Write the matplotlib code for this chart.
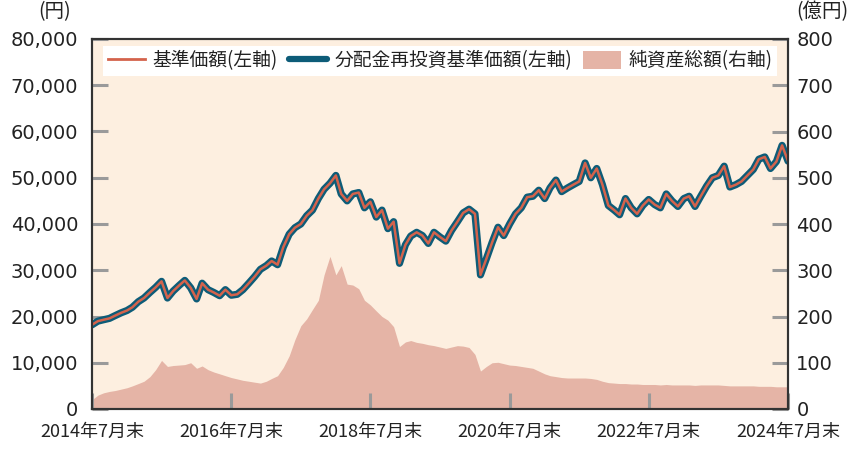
import numpy as np
import pandas as pd
import matplotlib
matplotlib.use("Agg")
import matplotlib.pyplot as plt
from matplotlib.lines import Line2D
from matplotlib.patches import Patch

plt.rcParams['font.family'] = ['Noto Sans CJK JP', 'DejaVu Sans']

# monthly, 2014-07 .. 2024-07 (month end)
dates = pd.date_range("2014-07-31", periods=121, freq="ME")

# 基準価額 (円), one value per month
nav = [
    18200, 19000, 19300, 19600, 20200, 20800, 21300, 22000, 23200, 24000,
    25200, 26300, 27600, 24000, 25500, 26700, 27800, 26200, 23800, 27200,
    25800, 25200, 24500, 25800, 24600, 24800, 25800, 27200, 28600, 30200,
    31000, 32000, 31200, 35000, 37800, 39200, 40000, 41800, 43000, 45500,
    47500, 48800, 50500, 46500, 45000, 46500, 46800, 43500, 44800, 41500,
    43000, 39000, 40500, 31500, 35500, 37400, 38200, 37500, 35800, 38200,
    37200, 36300, 38600, 40500, 42400, 43200, 42200, 29000, 32500, 36000,
    39300, 37500, 40000, 42200, 43500, 45800, 46000, 47300, 45500, 47800,
    49500, 47000, 47800, 48500, 49200, 53200, 50000, 52000, 48500, 44000,
    43000, 42000, 45500, 43500, 42200, 44000, 45300, 44200, 43500, 46500,
    45000, 43800, 45500, 46000, 43800, 46000, 48200, 50000, 50500, 52500,
    48000, 48500, 49200, 50500, 51800, 54000, 54500, 52000, 53500, 57000,
    53600,
]
# 分配金再投資基準価額 (円) - no distributions, same path as nav
nav_reinvest = list(nav)

# 純資産総額 (億円)
assets = [
    20, 30, 35, 38, 40, 43, 46, 50, 55, 60,
    70, 85, 105, 92, 94, 95, 96, 100, 88, 93,
    85, 80, 76, 72, 68, 65, 62, 60, 58, 56,
    60, 66, 72, 90, 115, 150, 180, 195, 215, 235,
    290, 330, 290, 310, 270, 268, 260, 235, 225, 212,
    200, 192, 178, 135, 145, 148, 144, 142, 139, 137,
    134, 131, 134, 137, 136, 133, 118, 82, 92, 100,
    101, 98, 95, 94, 92, 90, 88, 82, 76, 72,
    70, 68, 67, 67, 67, 67, 66, 64, 60, 57,
    56, 55, 55, 54, 54, 53, 53, 53, 52, 53,
    52, 52, 52, 52, 51, 52, 52, 52, 52, 51,
    50, 50, 50, 50, 50, 49, 49, 49, 48, 48,
    48,
]

tick_dates = pd.to_datetime(["2014-07-31", "2016-07-31", "2018-07-31",
                             "2020-07-31", "2022-07-31", "2024-07-31"])
tick_labels = ["2014年7月末", "2016年7月末", "2018年7月末",
               "2020年7月末", "2022年7月末", "2024年7月末"]
left_ticks = np.arange(0, 80001, 10000)
right_ticks = np.arange(0, 801, 100)

RED = "#d4634c"
TEAL = "#0d5c78"
AREA = "#e5b4a6"
BG = "#fdefe0"
TICK = "#9a9a9a"

fig = plt.figure(figsize=(8.52, 4.5), dpi=100)
ax = fig.add_axes([92 / 852, 41 / 450, 696 / 852, 370 / 450])
ax.set_facecolor(BG)

# area on the base axes, right-hand scale
ax.fill_between(dates, assets, 0, color=AREA, lw=0)
ax.set_ylim(0, 800)

# price lines on the twin, left-hand scale
ax2 = ax.twinx()
ax2.plot(dates, nav_reinvest, color=TEAL, lw=5.2, solid_joinstyle="round",
         solid_capstyle="round")
ax2.plot(dates, nav, color=RED, lw=1.8)
ax2.set_ylim(0, 80000)

# swap sides: twin carries the left axis, base carries the right
ax.yaxis.tick_right()
ax2.yaxis.tick_left()
ax.set_yticks(right_ticks)
ax.set_yticklabels([f"{v:d}" for v in right_ticks], family="DejaVu Sans")
ax2.set_yticks(left_ticks)
ax2.set_yticklabels([f"{v:,d}" for v in left_ticks], family="DejaVu Sans")

for a in (ax, ax2):
    a.set_xlim(dates[0], dates[-1])
    for s in a.spines.values():
        s.set_color("#333333")
        s.set_linewidth(1.5)

ax.set_xticks(tick_dates)
ax.set_xticklabels(tick_labels)
ax.tick_params(axis="x", direction="in", length=11.5, width=2.2, color=TICK,
               labelsize=13, pad=10, labelcolor="#222222")
ax.tick_params(axis="y", direction="in", length=11.5, width=2.2, color=TICK,
               labelsize=14, pad=6, labelcolor="#222222")
ax2.tick_params(axis="y", direction="in", length=11.5, width=2.2, color=TICK,
                labelsize=14, pad=10, labelcolor="#222222")

fig.text(55 / 852, 1 - 12 / 450, "(円)", ha="center", va="center",
         fontsize=14, color="#222222")
fig.text(822 / 852, 1 - 12 / 450, "(億円)", ha="center", va="center",
         fontsize=14, color="#222222")

handles = [
    Line2D([], [], color=RED, lw=2),
    Line2D([], [], color=TEAL, lw=4.5, solid_capstyle="round"),
    Patch(facecolor=AREA, edgecolor="none"),
]
labels = ["基準価額(左軸)", "分配金再投資基準価額(左軸)", "純資産総額(右軸)"]
leg = ax2.legend(handles, labels, loc="upper center", ncol=3, fontsize=13.5,
                 frameon=True, fancybox=False, framealpha=1,
                 handlelength=2.0, handleheight=1.1, handletextpad=0.4,
                 columnspacing=0.6, borderpad=0.25, borderaxespad=0.35)
leg.get_frame().set_facecolor("white")
leg.get_frame().set_edgecolor("none")
for t in leg.get_texts():
    t.set_color("#222222")

fig.savefig("out.png", dpi=100)
